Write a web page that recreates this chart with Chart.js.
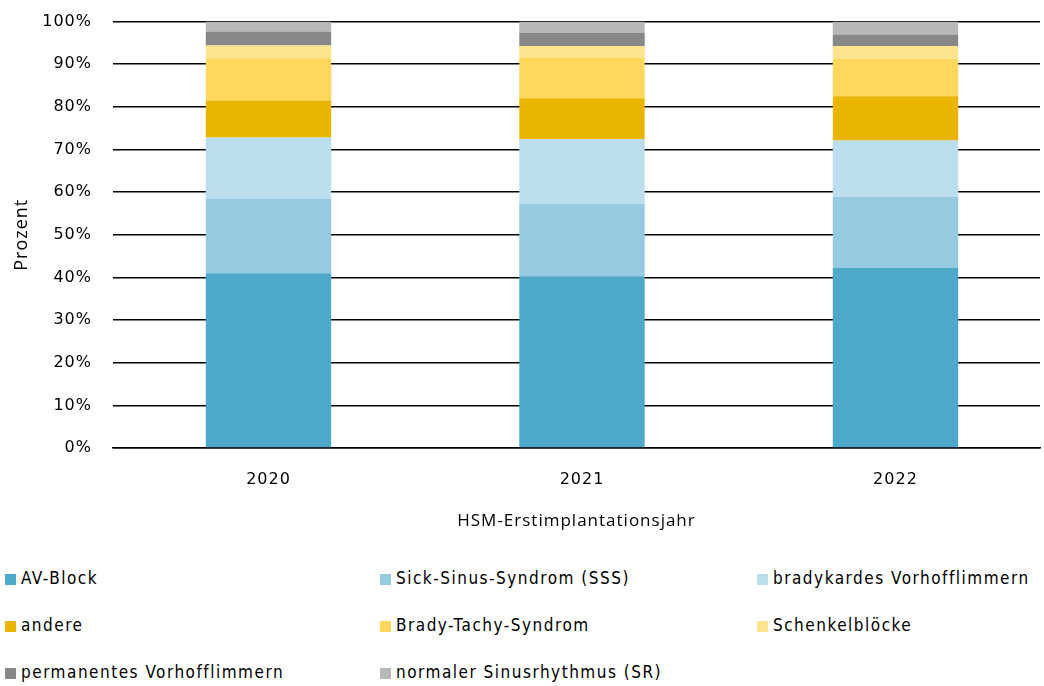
<!DOCTYPE html>
<html><head><meta charset="utf-8">
<script src="https://cdn.jsdelivr.net/npm/chart.js@4/dist/chart.umd.min.js"></script>
<style>
html,body{margin:0;padding:0;background:#fff;}
#wrap{position:relative;width:1044px;height:686px;overflow:hidden;}
#c{position:absolute;left:0;top:-9px;}
#legend{position:absolute;left:0;top:562px;width:1044px;font-family:"DejaVu Sans Condensed","DejaVu Sans",sans-serif;font-size:17px;letter-spacing:1.5px;color:#000;}
.li{position:absolute;white-space:nowrap;line-height:20px;}
.sw{display:inline-block;width:11px;height:11px;margin-right:5px;vertical-align:-1px;}
</style></head>
<body><div id="wrap"><canvas id="c" width="1044" height="554"></canvas><div id="legend"></div></div>
<script>
const years = ["2020", "2021", "2022"];
const seriesNames = ["AV-Block", "Sick-Sinus-Syndrom (SSS)", "bradykardes Vorhofflimmern", "andere", "Brady-Tachy-Syndrom", "Schenkelblöcke", "permanentes Vorhofflimmern", "normaler Sinusrhythmus (SR)"];
const avBlock = [41.0, 40.3, 42.2];
const sss = [17.5, 17.0, 16.7];
const bradyVhf = [14.3, 15.1, 13.2];
const andere = [8.7, 9.6, 10.4];
const bradyTachy = [9.9, 9.6, 8.8];
const schenkel = [3.0, 2.7, 3.0];
const permVhf = [3.3, 3.0, 2.7];
const sinus = [2.3, 2.7, 3.0];
const yTicks = [0, 10, 20, 30, 40, 50, 60, 70, 80, 90, 100];
const colors = ["#4ea8ca", "#95cae0", "#bbdeec", "#e9b500", "#ffd75a", "#ffe490", "#888888", "#b8b8b8"];
const values = [avBlock, sss, bradyVhf, andere, bradyTachy, schenkel, permVhf, sinus];

const datasets = seriesNames.map((n, i) => ({
  label: n, data: values[i].map((v, k) => ({ x: k, y: v })), backgroundColor: colors[i], borderWidth: 0,
  barPercentage: 0.4, categoryPercentage: 1.0
}));

const spacingPlugin = {
  id: 'spacing',
  beforeDraw(chart) { chart.ctx.letterSpacing = '1px'; }
};

new Chart(document.getElementById('c'), {
  type: 'bar',
  data: { datasets },
  plugins: [spacingPlugin],
  options: {
    responsive: false, animation: false,
    layout: { padding: { top: 12, right: 4, left: 0, bottom: 0 } },
    plugins: { legend: { display: false }, tooltip: { enabled: false } },
    scales: {
      x: {
        type: 'linear', stacked: true, min: -0.496, max: 2.461, offset: false,
        afterBuildTicks: s => { s.ticks = years.map((y, k) => ({ value: k })); },
        grid: { display: false, drawTicks: false },
        border: { display: true, color: '#000', width: 1.5 },
        ticks: { color: '#000', padding: 22, font: { family: 'DejaVu Sans', size: 16 }, callback: v => years[v] },
        title: { display: true, text: 'HSM-Erstimplantationsjahr', color: '#000', font: { family: 'Open Sans', size: 17 }, padding: { top: 0, bottom: 14 } },
        afterFit: s => { s.height = 554 - 457; }
      },
      y: {
        stacked: true, min: 0, max: 100,
        afterBuildTicks: s => { s.ticks = yTicks.map(v => ({ value: v })); },
        grid: { color: '#000', lineWidth: 1.5, drawTicks: false },
        border: { display: false },
        ticks: { color: '#000', padding: 21, font: { family: 'DejaVu Sans', size: 16 }, callback: v => v + '%' },
        title: { display: true, text: 'Prozent', color: '#000', font: { family: 'Open Sans', size: 18 }, padding: { top: 11, bottom: 0 } },
        afterFit: s => { s.width = 113; }
      }
    }
  }
});

const leg = document.getElementById('legend');
const colX = [5, 380, 757];
seriesNames.forEach((n, i) => {
  const d = document.createElement('div');
  d.className = 'li';
  d.style.left = colX[i % 3] + 'px';
  d.style.top = (Math.floor(i / 3) * 47 + 6) + 'px';
  d.innerHTML = '<span class="sw" style="background:' + colors[i] + '"></span>' + n;
  leg.appendChild(d);
});
</script></body></html>
